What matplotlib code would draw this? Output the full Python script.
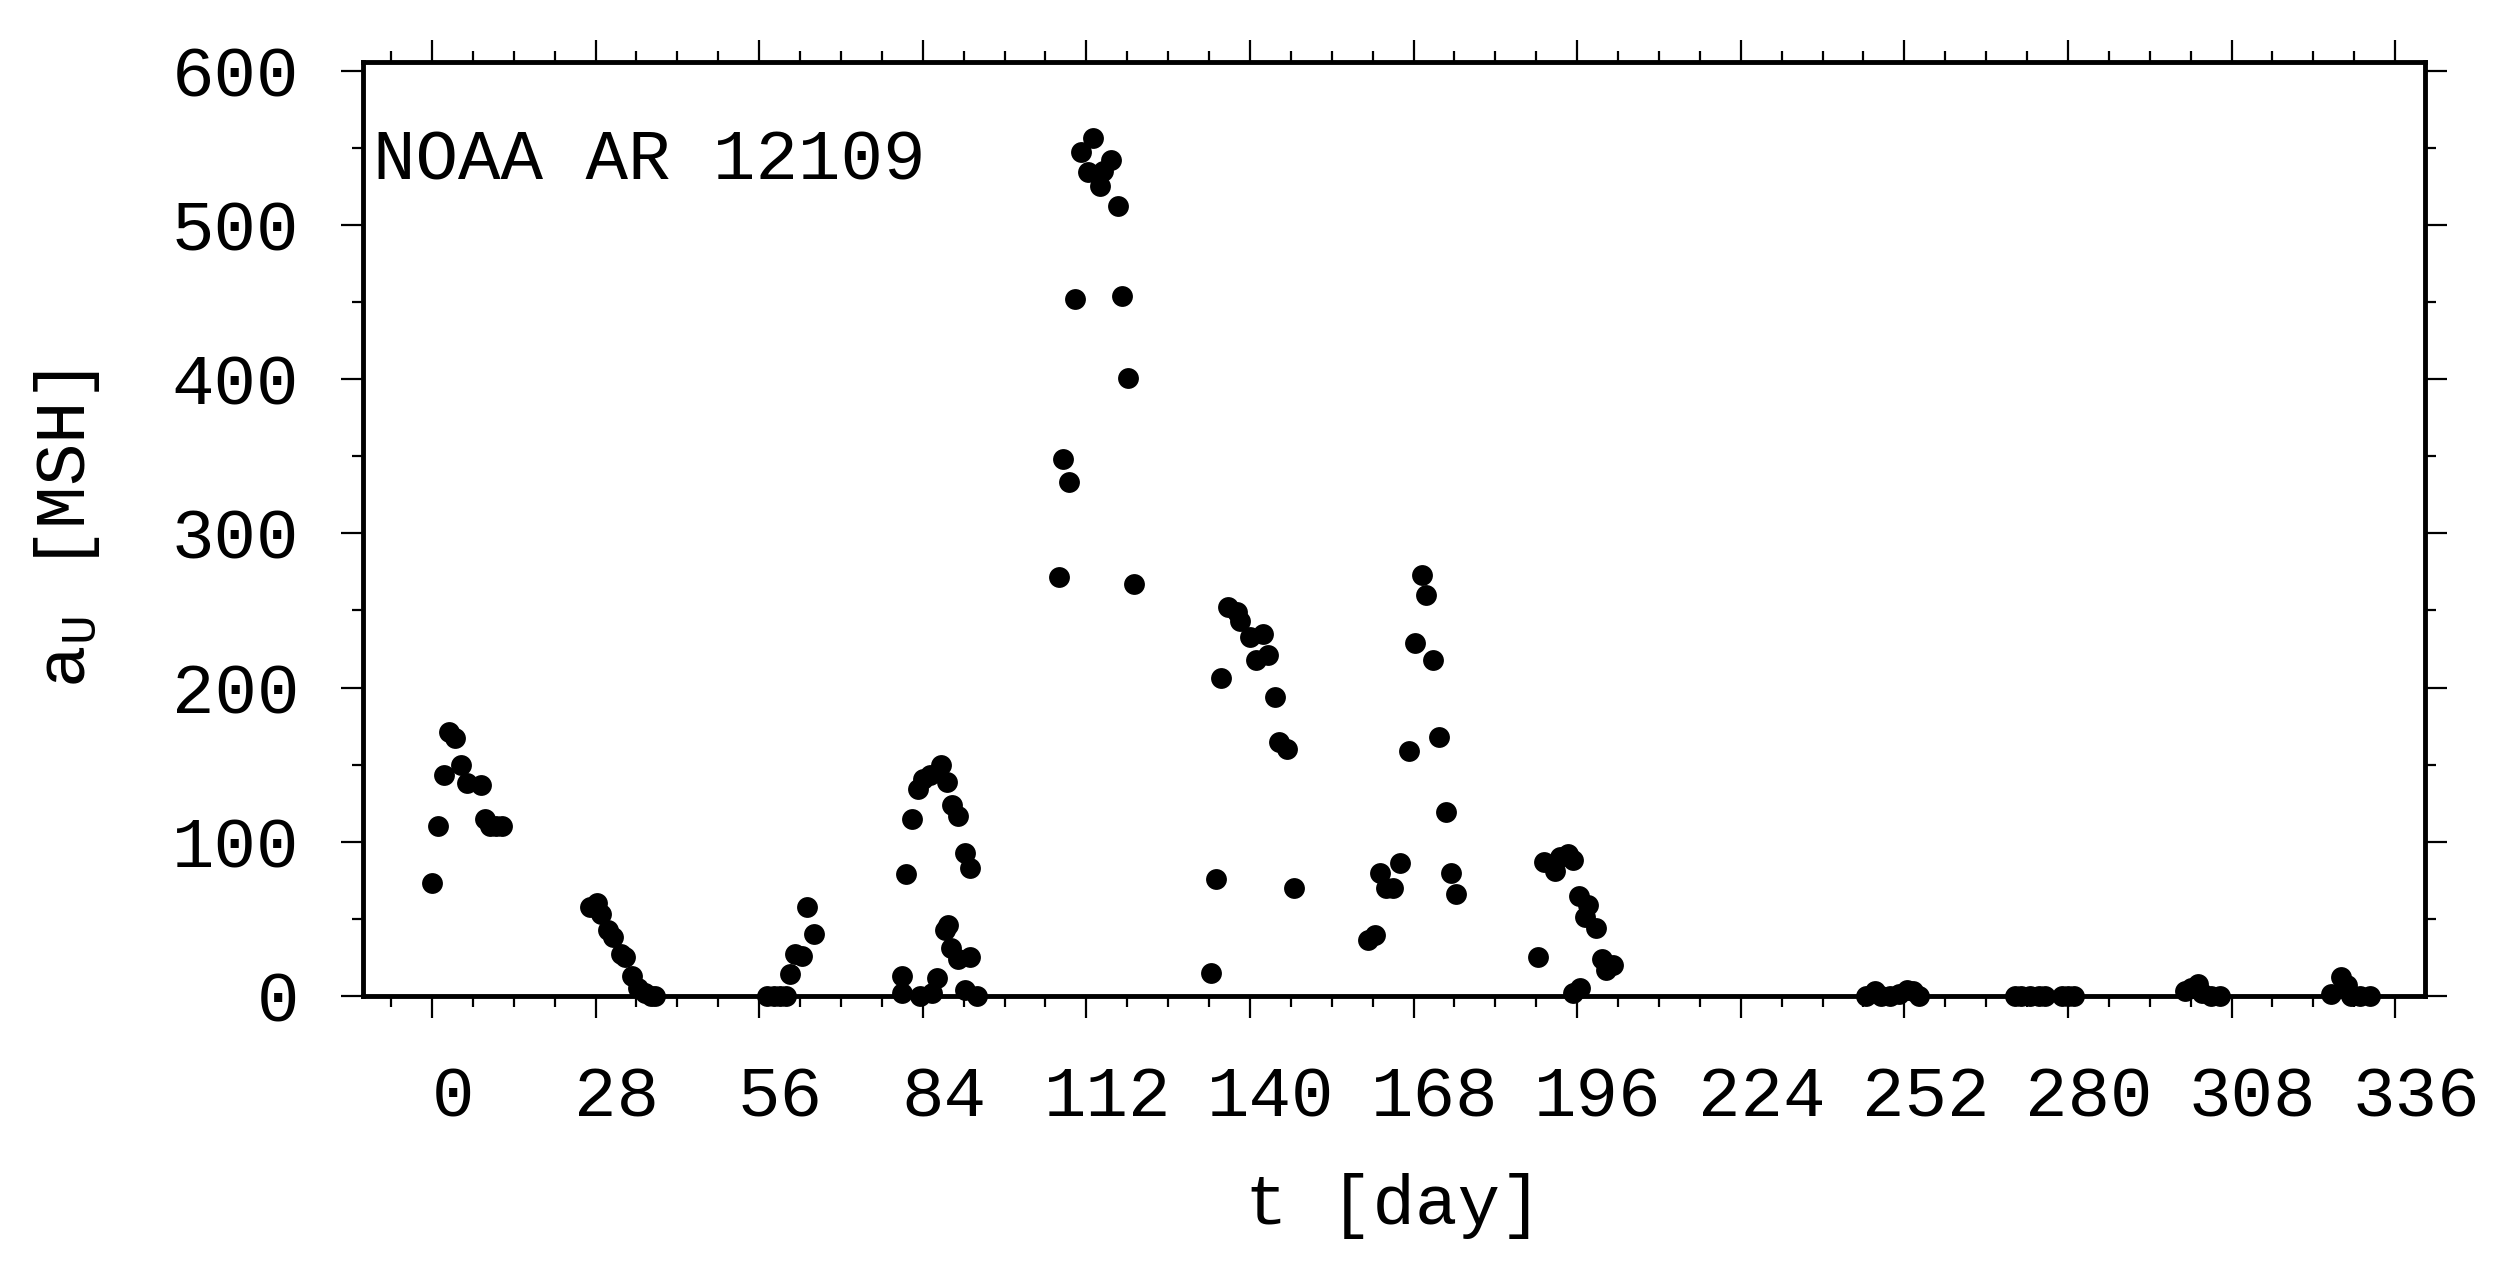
import matplotlib
matplotlib.use('Agg')
import matplotlib.pyplot as plt
import matplotlib.transforms as mtransforms
from matplotlib.ticker import MultipleLocator

plt.rcParams['font.family'] = ['Liberation Mono', 'DejaVu Sans Mono']
plt.rcParams['mathtext.fontset'] = 'custom'
plt.rcParams['mathtext.rm'] = 'Liberation Mono'
plt.rcParams['mathtext.it'] = 'Liberation Mono'

# umbral area of NOAA AR 12109 vs time
t_day = [0, 1, 2, 3, 4, 5, 6, 8.4, 9, 10, 11, 12,
         27, 28.3, 29, 30.2, 31, 32.3, 33, 34.2, 35.3, 36.5, 37.5, 38.2,
         57.3, 58.5, 59.5, 60.6, 61.2, 62.1, 63.4, 64.2, 65.4,
         80.4, 80.5, 81.1, 82.1, 83.2, 83.5, 84.1, 85.2, 85.5, 86.4, 87.1,
         87.8, 88.2, 88.4, 88.9, 89.0, 90.1, 90.1, 91.3, 91.3, 92.1, 92.1, 93.2,
         107.4, 108.0, 109.1, 110.1, 111.1, 112.3, 113.2, 114.3, 114.9, 116.2,
         117.4, 118.1, 119.2, 120.2,
         133.3, 134.2, 135.1, 136.3, 137.7, 138.3, 140.0, 141.1, 142.2, 143.1,
         144.2, 145.0, 146.3, 147.5,
         160.2, 161.4, 162.2, 163.3, 164.5, 165.7, 167.3, 168.3, 169.4, 170.1,
         171.3, 172.4, 173.5, 174.4, 175.3,
         189.3, 190.3, 192.2, 193.1, 194.5, 195.3, 195.3, 196.3, 196.5, 197.3,
         197.9, 199.3, 200.2, 201.0, 202.2,
         245.5, 247, 248, 249.5, 251, 252.5, 253.5, 254.5,
         271, 272, 273.5, 275, 276, 279, 280, 281,
         300, 301, 302.3, 303, 304.5, 306,
         325, 326.7, 327.8, 328.5, 330, 331.7]
area_msh = [73, 110, 143, 171, 167, 150, 138, 137, 115, 110, 110, 110,
            58, 60, 53, 43, 38, 27, 25, 13, 5, 2, 0, 0,
            0, 0, 0, 0, 14, 27, 26, 58, 40,
            13, 2, 79, 115, 134, 0, 141, 143, 2, 11.5, 150,
            43, 139, 46, 31, 124, 117, 24, 93, 4, 83, 25, 0,
            272, 348, 333, 452, 547, 534, 556, 525, 535, 542,
            512, 454, 401, 267,
            15, 76, 206, 252, 249, 243, 233, 218, 235, 221,
            194, 165, 160, 70,
            36, 39.5, 80, 70, 70, 86, 159, 229, 273, 260,
            218, 168, 119, 80, 66,
            25, 87, 81, 90, 92, 88, 2, 65, 5, 51,
            59, 44, 24, 17, 20,
            0, 3, 0, 0, 1, 4, 3, 0,
            0, 0, 0, 0, 0, 0, 0, 0,
            3, 5, 8, 2, 0, 0,
            1, 12, 7, 0, 0, 0]
x_ticks = list(range(0, 337, 28))

fig = plt.figure(figsize=(25.05, 12.61), dpi=100)
ax = fig.add_axes([363/2505, 1-996/1261, 2062/2505, 934/1261])

ax.plot(t_day, area_msh, 'o', color='black', ms=15, mew=0, clip_on=False)

ax.set_xlim(-11.8, 341.1)
ax.set_ylim(0, 605.6)
ax.set_xticks(x_ticks)
ax.xaxis.set_minor_locator(MultipleLocator(7))
ax.yaxis.set_major_locator(MultipleLocator(100))
ax.yaxis.set_minor_locator(MultipleLocator(50))

for s in ax.spines.values():
    s.set_linewidth(3.5)
ax.tick_params(which='both', direction='out', top=True, right=True,
               width=1.6, labelsize=51)
ax.tick_params(which='major', length=16)
ax.tick_params(which='minor', length=8)
ax.tick_params(axis='x', which='major', pad=34)
ax.tick_params(axis='y', which='major', pad=30)

# the x tick labels sit a little right of their ticks
shift = mtransforms.ScaledTranslation(0.21, 0, fig.dpi_scale_trans)
for lab in ax.get_xticklabels():
    lab.set_transform(lab.get_transform() + shift)

ax.set_xlabel('t [day]', fontsize=51, labelpad=30)
ax.set_ylabel('a$_\\mathrm{U}$ [MSH]', fontsize=51, labelpad=50)

ax.text(0.005, 0.874, 'NOAA AR 12109', transform=ax.transAxes,
        fontsize=51, va='baseline', ha='left')

fig.savefig('out.png', dpi=100)
